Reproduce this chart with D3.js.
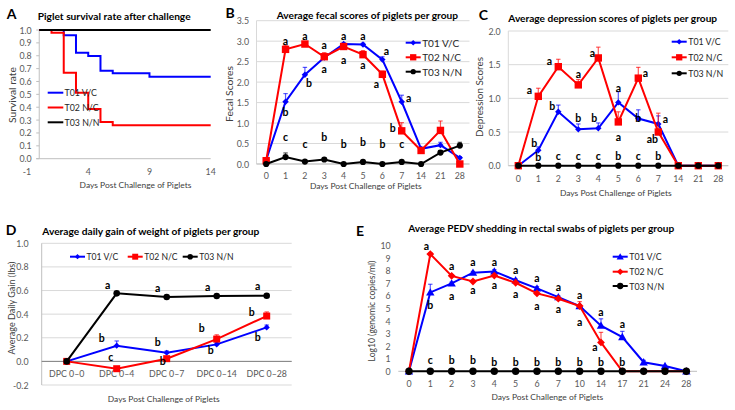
<!DOCTYPE html>
<html><head><meta charset="utf-8">
<script src="https://cdn.jsdelivr.net/npm/d3@7"></script>
<style>body{margin:0;background:#fff}svg{display:block}text{font-family:Lato,"Open Sans",sans-serif}</style>
</head><body><svg id="c" width="735" height="410"></svg>
<script>
// ---------------- DATA ----------------
const seriesNames = ["T01 V/C", "T02 N/C", "T03 N/N"];

// Panel A: survival (day, rate) step data
const survivalT01 = [[0,1],[2,0.96],[3,0.824],[4,0.798],[5,0.684],[6,0.663],[9,0.637],[14,0.637]];
const survivalT02 = [[0,1],[1,0.979],[2,0.668],[3,0.513],[4,0.386],[5,0.285],[6,0.259],[14,0.259]];
const survivalT03 = [[0,1],[14,1]];
const survivalXTicks = [-1, 4, 9, 14];
const survivalYTicks = [0,0.1,0.2,0.3,0.4,0.5,0.6,0.7,0.8,0.9,1.0];

// Panel B: fecal scores
const fecalDays = ["0","1","2","3","4","5","6","7","14","21","28"];
const fecalT01 = [0.1,1.52,2.18,2.6,2.93,2.92,2.55,1.52,0.37,0.46,0.15];
const fecalT02 = [0.08,2.8,2.93,2.62,2.87,2.67,2.19,0.81,0.33,0.82,0];
const fecalT03 = [0,0.17,0.06,0.11,0,0.05,0,0.05,0,0.28,0.45];
const fecalErrT01 = [0,0.2,0.18,0.06,0.03,0.03,0.07,0.16,0.04,0.07,0.03];
const fecalErrT02 = [0.02,0.1,0.04,0.1,0.04,0.1,0.08,0.2,0.05,0.23,0];
const fecalErrT03 = [0,0.1,0.02,0.03,0,0.02,0,0.03,0,0.05,0.08];
const fecalYTicks = [0,0.5,1,1.5,2,2.5,3,3.5];
const fecalLetters = [
  ["1","a",3.01,"C"],["1","b",1.26,"C"],["1","c",0.67,"C"],
  ["2","a",3.12,"C"],["2","b",1.98,"r"],["2","c",0.50,"C"],
  ["3","a",2.90,"C"],["3","a",2.33,"C"],["3","b",0.67,"C"],
  ["4","a",3.12,"C"],["4","a",2.54,"C"],["4","b",0.48,"C"],
  ["5","a",3.12,"C"],["5","a",2.41,"C"],["5","b",0.54,"C"],
  ["6","a",2.76,"r"],["6","a",1.95,"m"],["6","b",0.48,"C"],
  ["7","a",1.62,"R"],["7","b",0.87,"L"],["7","c",0.48,"C"]
];

// Panel C: depression scores
const deprDays = ["0","1","2","3","4","5","6","7","14","21","28"];
const deprT01 = [0,0.23,0.8,0.54,0.555,0.94,0.7,0.62,0,0,0];
const deprT02 = [0,1.03,1.47,1.2,1.6,0.65,1.3,0.5,0,0,0];
const deprT03 = [0,0,0,0,0,0,0,0,0,0,0];
const deprErrT01 = [0,0.05,0.1,0.08,0.08,0.16,0.13,0.12,0,0,0];
const deprErrT02 = [0,0.12,0.11,0.08,0.16,0.15,0.16,0.28,0,0,0];
const deprErrT03 = [0,0,0,0,0,0,0,0,0,0,0];
const deprYTicks = [0,0.5,1,1.5,2];
const deprLetters = [
  ["1","a",1.13,"L"],["1","b",0.33,"l"],["1","b",0.13,"C"],
  ["2","a",1.56,"L"],["2","b",0.88,"m"],["2","c",0.14,"C"],
  ["3","a",1.36,"C"],["3","b",0.71,"C"],["3","c",0.14,"C"],
  ["4","a",1.68,"m"],["4","b",0.71,"l"],["4","c",0.14,"C"],
  ["5","a",1.16,"C"],["5","a",0.43,"C"],["5","b",0.14,"C"],
  ["6","a",1.38,"R"],["6","b",0.71,"C"],["6","c",0.14,"C"],
  ["7","a",0.69,"R"],["7","ab",0.39,"m"],["7","b",0.14,"C"]
];

// Panel D: average daily gain
const adgPeriods = ["DPC 0\u20130","DPC 0\u20134","DPC 0\u20137","DPC 0\u201314","DPC 0\u201328"];
const adgT01 = [0,0.133,0.073,0.144,0.288];
const adgT02 = [0,-0.062,0.023,0.189,0.384];
const adgT03 = [0,0.576,0.545,0.554,0.556];
const adgErrT01 = [0,0.04,0.015,0.015,0.02];
const adgErrT02 = [0,0.01,0.015,0.036,0.035];
const adgErrT03 = [0,0.01,0.01,0.01,0.01];
const adgYTicks = [-0.2,0,0.2,0.4,0.6,0.8,1.0];
const adgLetters = [
  ["DPC 0\u20134","a",0.65,"L"],["DPC 0\u20134","b",0.195,"LL"],["DPC 0\u20134","c",0.034,"m"],
  ["DPC 0\u20137","a",0.62,"L"],["DPC 0\u20137","b",0.16,"L"],["DPC 0\u20137","b",0.005,"l"],
  ["DPC 0\u201314","a",0.63,"L"],["DPC 0\u201314","b",0.28,"LL"],["DPC 0\u201314","b",0.10,"m"],
  ["DPC 0\u201328","a",0.64,"L"],["DPC 0\u201328","b",0.42,"LL"],["DPC 0\u201328","b",0.21,"L"]
];

// Panel E: PEDV shedding
const pedvDays = ["0","1","2","3","4","5","6","7","10","14","17","21","24","28"];
const pedvT01 = [0,6.28,7.0,7.85,7.95,7.25,6.6,5.9,5.2,3.63,2.73,0.72,0.42,0];
const pedvT02 = [0,9.33,7.6,7.15,7.62,7.05,6.2,5.78,5.2,2.3,0,0,0,0];
const pedvT03 = [0,0,0,0,0,0,0,0,0,0,0,0,0,0];
const pedvErrT01 = [0,0.65,0.1,0.1,0.15,0.1,0.15,0.1,0.1,0.55,0.45,0.15,0.05,0];
const pedvErrT02 = [0,0.1,0.1,0.1,0.1,0.1,0.1,0.1,0.35,0.8,0,0,0,0];
const pedvErrT03 = [0,0,0,0,0,0,0,0,0,0,0,0,0,0];
const pedvYTicks = [0,1,2,3,4,5,6,7,8,9,10];
const pedvLetters = [
  ["1","a",9.99,"l"],["1","b",5.25,"C"],["1","c",0.9,"C"],
  ["2","a",8.4,"C"],["2","a",6.01,"C"],["2","b",0.9,"C"],
  ["3","a",8.67,"C"],["3","a",6.47,"C"],["3","b",0.9,"C"],
  ["4","a",8.67,"C"],["4","a",6.87,"C"],["4","b",0.75,"C"],
  ["5","a",8.06,"C"],["5","a",6.15,"C"],["5","b",0.75,"C"],
  ["6","a",7.40,"C"],["6","a",5.19,"C"],["6","b",0.75,"C"],
  ["7","a",6.73,"C"],["7","a",4.93,"C"],["7","b",0.75,"C"],
  ["10","a",6.07,"C"],["10","a",3.90,"C"],["10","b",0.75,"C"],
  ["14","a",4.74,"C"],["14","a",1.96,"m"],["14","b",0.75,"C"],
  ["17","a",3.74,"C"],["17","b",0.75,"C"]
];

// ---------------- DRAWING ----------------
const BLUE = "#0000ff", RED = "#ff0000", BLACK = "#000000";
const colors = [BLUE, RED, BLACK];
const TICK = "#595959", TITLE = "#404040";
const sideOffset = {C:0, l:-4, m:-6, L:-9, LL:-15, r:4, R:7};
const svg = d3.select("#c");

function txt(g, x, y, s, o = {}) {
  const size = o.size || 8;
  const t = g.append("text").attr("x", x).attr("y", y).text(s)
    .attr("font-size", size).attr("fill", o.fill || TICK)
    .attr("text-anchor", o.anchor || "middle").attr("dominant-baseline", "central")
    .attr("font-weight", o.weight || "normal");
  if (o.rotate) t.attr("transform", `rotate(-90 ${x} ${y})`);
  if (o.width) {
    const w = t.node().getComputedTextLength();
    if (w > 0) t.attr("font-size", size * o.width / w);
  }
  return t;
}

function marker(g, type, cx, cy, r, color) {
  if (type === "circle") g.append("circle").attr("cx", cx).attr("cy", cy).attr("r", r).attr("fill", color);
  else if (type === "square") g.append("rect").attr("x", cx - r).attr("y", cy - r).attr("width", 2 * r).attr("height", 2 * r).attr("fill", color);
  else if (type === "diamond") g.append("path").attr("d", `M${cx},${cy - r}L${cx + r},${cy}L${cx},${cy + r}L${cx - r},${cy}Z`).attr("fill", color);
  else if (type === "triangle") g.append("path").attr("d", `M${cx},${cy - r}L${cx + r},${cy + r * 0.75}L${cx - r},${cy + r * 0.75}Z`).attr("fill", color);
}

function catPanel(o) {
  const g = svg.append("g");
  const x = d3.scalePoint().domain(o.cats).range([o.left, o.right]).padding(0.5);
  const y = d3.scaleLinear().domain(o.yDomain).range([o.bottom, o.top]);
  if (o.grid) {
    g.selectAll(null).data(o.yTicks).join("line")
      .attr("x1", o.left).attr("x2", o.right).attr("y1", d => y(d)).attr("y2", d => y(d))
      .attr("stroke", "#d9d9d9").attr("stroke-width", 1);
  }
  if (o.yAxisLine) g.append("line").attr("x1", o.left).attr("x2", o.left).attr("y1", y(o.yDomain[0])).attr("y2", y(o.yDomain[1]))
      .attr("stroke", o.yAxisLine).attr("stroke-width", 1);
  g.append("line").attr("x1", o.left).attr("x2", o.right).attr("y1", y(0)).attr("y2", y(0))
    .attr("stroke", o.zeroColor || "#bfbfbf").attr("stroke-width", 1);
  o.yTicks.forEach(t => txt(g, o.yLabelX, y(t), d3.format(o.fmt)(t).replace("\u2212", "-"), {anchor: "end", size: 8.8}));
  o.cats.forEach(c => txt(g, x(c), o.xLabelY, c, {size: 8.8}));
  // series
  o.series.forEach((s, i) => {
    const pts = o.cats.map((c, k) => [x(c), y(s.values[k])]);
    g.append("path").attr("d", d3.line()(pts)).attr("fill", "none").attr("stroke", colors[i]).attr("stroke-width", 2);
    s.errors.forEach((e, k) => {
      if (e <= 0) return;
      const cx = x(o.cats[k]), y0 = y(s.values[k]), y1 = y(s.values[k] + e);
      g.append("line").attr("x1", cx).attr("x2", cx).attr("y1", y0).attr("y2", y1).attr("stroke", colors[i]).attr("stroke-opacity", 0.65).attr("stroke-width", 1.2);
      g.append("line").attr("x1", cx - 2.2).attr("x2", cx + 2.2).attr("y1", y1).attr("y2", y1).attr("stroke", colors[i]).attr("stroke-opacity", 0.65).attr("stroke-width", 1.2);
    });
    o.cats.forEach((c, k) => marker(g, s.marker, x(c), y(s.values[k]), s.r, colors[i]));
  });
  // letters
  o.letters.forEach(([c, l, v, side]) => txt(g, x(c) + sideOffset[side], y(v), l, {size: 10.5, weight: "bold", fill: "#000"}));
  // legend
  o.legend.rows.forEach((ly, i) => {
    const lx = o.legend.xs ? o.legend.xs[i] : o.legend.x;
    g.append("line").attr("x1", lx).attr("x2", lx + 15).attr("y1", ly).attr("y2", ly).attr("stroke", colors[i]).attr("stroke-width", 2);
    marker(g, o.series[i].marker, lx + 7.5, ly, o.series[i].r * 0.85, colors[i]);
    txt(g, lx + 16.5, ly, seriesNames[i], {anchor: "start", size: o.legend.size, fill: "#262626"});
  });
  // titles
  txt(g, o.title.x, o.title.y, o.title.text, {anchor: "start", weight: "bold", fill: "#000", size: 9.5, width: o.title.w});
  txt(g, o.xTitle.x, o.xTitle.y, "Days Post Challenge of Piglets", {size: 8.3, fill: TITLE, width: 112});
  txt(g, o.yTitle.x, o.yTitle.y, o.yTitle.text, {size: 8.3, fill: TITLE, rotate: true, width: o.yTitle.w});
  txt(g, o.panel.x, o.panel.y, o.panel.text, {size: 14, weight: "bold", fill: "#000"});
}

// ----- Panel A -----
(function () {
  const g = svg.append("g");
  const x = d3.scaleLinear().domain([-1, 14]).range([27, 210.7]);
  const y = d3.scaleLinear().domain([0, 1]).range([158.7, 30]);
  g.append("line").attr("x1", x(0)).attr("x2", x(0)).attr("y1", y(0)).attr("y2", y(1)).attr("stroke", "#bfbfbf");
  g.append("line").attr("x1", x(0) - 3).attr("x2", x(14)).attr("y1", y(0)).attr("y2", y(0)).attr("stroke", "#bfbfbf");
  survivalYTicks.forEach(t => {
    g.append("line").attr("x1", x(0) - 3).attr("x2", x(0)).attr("y1", y(t)).attr("y2", y(t)).attr("stroke", "#bfbfbf");
    txt(g, 31.7, y(t), d3.format(".1f")(t), {anchor: "end", size: 8.8});
  });
  survivalXTicks.forEach(t => txt(g, x(t), 171.7, String(t), {size: 8.8}));
  const line = d3.line().x(d => x(d[0])).y(d => y(d[1])).curve(d3.curveStepAfter);
  [survivalT01, survivalT02, survivalT03].forEach((s, i) =>
    g.append("path").attr("d", line(s)).attr("fill", "none").attr("stroke", colors[i]).attr("stroke-width", 2));
  [92.7, 107.5, 122.3].forEach((ry, i) => {
    g.append("line").attr("x1", 47.7).attr("x2", 63.3).attr("y1", ry).attr("y2", ry).attr("stroke", colors[i]).attr("stroke-width", 2);
    txt(g, 64.5, ry, seriesNames[i], {anchor: "start", size: 8.8, fill: "#262626"});
  });
  txt(g, 37.7, 16, "Piglet survival rate after challenge", {anchor: "start", weight: "bold", fill: "#000", size: 9.5, width: 153});
  txt(g, 135.5, 185, "Days Post Challenge of Piglets", {size: 8.3, fill: TITLE, width: 112});
  txt(g, 11.7, 95, "Survival rate", {size: 8.3, fill: TITLE, rotate: true, width: 56});
  txt(g, 11.5, 13.5, "A", {size: 14, weight: "bold", fill: "#000"});
})();

// ----- Panel B -----
catPanel({
  cats: fecalDays, left: 256.5, right: 469.5, top: 20.7, bottom: 164, yDomain: [0, 3.5], yTicks: fecalYTicks, fmt: ".1f",
  grid: true, yAxisLine: "#d9d9d9", yLabelX: 249, xLabelY: 175,
  series: [
    {values: fecalT01, errors: fecalErrT01, marker: "diamond", r: 3.2},
    {values: fecalT02, errors: fecalErrT02, marker: "square", r: 3.7},
    {values: fecalT03, errors: fecalErrT03, marker: "circle", r: 3.1}],
  letters: fecalLetters,
  legend: {x: 405.7, rows: [42.7, 57.3, 71.7], size: 10},
  title: {x: 276.7, y: 15, text: "Average fecal scores of piglets per group", w: 181.6},
  xTitle: {x: 365.8, y: 186}, yTitle: {x: 229, y: 94, text: "Fecal Scores", w: 56},
  panel: {x: 230, y: 12, text: "B"}
});

// ----- Panel C -----
catPanel({
  cats: deprDays, left: 508.3, right: 728.3, top: 31, bottom: 165.7, yDomain: [0, 2], yTicks: deprYTicks, fmt: ".1f",
  grid: true, yAxisLine: "#d9d9d9", yLabelX: 500.7, xLabelY: 178.3,
  series: [
    {values: deprT01, errors: deprErrT01, marker: "diamond", r: 3.2},
    {values: deprT02, errors: deprErrT02, marker: "square", r: 3.7},
    {values: deprT03, errors: deprErrT03, marker: "circle", r: 3.1}],
  letters: deprLetters,
  legend: {x: 671.7, rows: [41.7, 57.3, 73.3], size: 8.8},
  title: {x: 508.3, y: 18.3, text: "Average depression scores of piglets per group", w: 209},
  xTitle: {x: 615.8, y: 192.7}, yTitle: {x: 479, y: 97, text: "Depression Scores", w: 80},
  panel: {x: 483.5, y: 14, text: "C"}
});

// ----- Panel D -----
catPanel({
  cats: adgPeriods, left: 41.7, right: 291.7, top: 243.3, bottom: 385, yDomain: [-0.2, 1.0], yTicks: adgYTicks, fmt: ".1f",
  grid: true, yAxisLine: "#bfbfbf", zeroColor: "#808080", yLabelX: 28.5, xLabelY: 373.3,
  series: [
    {values: adgT01, errors: adgErrT01, marker: "diamond", r: 3.1},
    {values: adgT02, errors: adgErrT02, marker: "square", r: 3.5},
    {values: adgT03, errors: adgErrT03, marker: "circle", r: 3.3}],
  letters: adgLetters,
  legend: {xs: [70, 127.7, 182.7], rows: [256.7, 256.7, 256.7], size: 8.6},
  title: {x: 42.3, y: 231, text: "Average daily gain of weight of piglets per group", w: 217},
  xTitle: {x: 163.7, y: 399}, yTitle: {x: 11.7, y: 308, text: "Average Daily Gain (lbs)", w: 93},
  panel: {x: 11.2, y: 229, text: "D"}
});

// ----- Panel E -----
catPanel({
  cats: pedvDays, left: 398.3, right: 697, top: 245.7, bottom: 371.3, yDomain: [0, 10], yTicks: pedvYTicks, fmt: "d",
  grid: false, yAxisLine: null, zeroColor: "#bfbfbf", yLabelX: 390.7, xLabelY: 383.3,
  series: [
    {values: pedvT01, errors: pedvErrT01, marker: "triangle", r: 4.2},
    {values: pedvT02, errors: pedvErrT02, marker: "diamond", r: 3.9},
    {values: pedvT03, errors: pedvErrT03, marker: "circle", r: 3.7}],
  letters: pedvLetters,
  legend: {x: 612.7, rows: [256.7, 271.7, 286], size: 8.8},
  title: {x: 408.3, y: 228.3, text: "Average PEDV shedding in rectal swabs of piglets per group", w: 266},
  xTitle: {x: 547.3, y: 397.3}, yTitle: {x: 371.7, y: 311, text: "Log10 (genomic copies/ml)", w: 101},
  panel: {x: 360, y: 230, text: "E"}
});
</script></body></html>
